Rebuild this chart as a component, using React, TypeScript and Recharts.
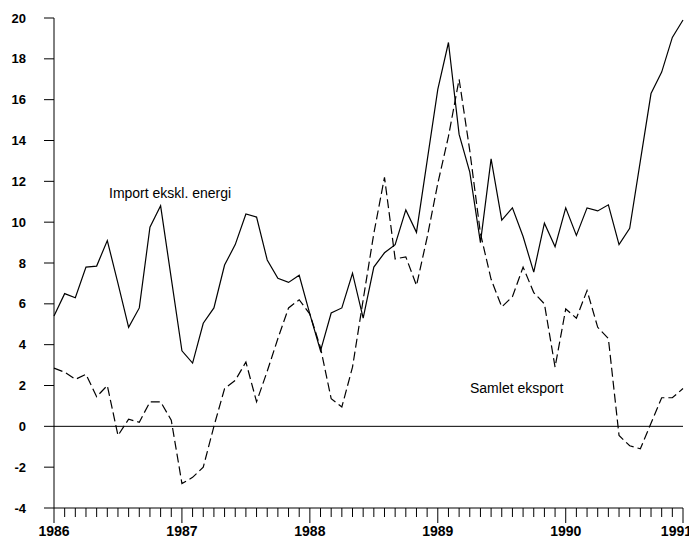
import { LineChart, Line, XAxis, YAxis, ReferenceLine } from 'recharts';

// månedlige tall, jan 1986 - des 1990
const importEksklEnergi = [
  5.4, 6.5, 6.3, 7.8, 7.85, 9.1, 7.0, 4.85, 5.8, 9.75, 10.8, 7.25,
  3.7, 3.1, 5.05, 5.8, 7.9, 8.9, 10.4, 10.25, 8.15, 7.25, 7.05, 7.4,
  5.5, 3.7, 5.55, 5.8, 7.5, 5.3, 7.8, 8.5, 8.9, 10.6, 9.5, 13.0,
  16.5, 18.8, 14.3, 12.45, 9.0, 13.1, 10.1, 10.7, 9.3, 7.55, 9.95, 8.8,
  10.7, 9.35, 10.7, 10.55, 10.85, 8.9, 9.7, 13.0, 16.3, 17.35, 19.05, 19.9,
];

const samletEksport = [
  2.85, 2.65, 2.3, 2.55, 1.45, 2.0, -0.45, 0.35, 0.2, 1.2, 1.2, 0.3,
  -2.8, -2.5, -2.0, 0.0, 1.85, 2.25, 3.15, 1.2, 2.7, 4.3, 5.8, 6.2,
  5.5, 3.85, 1.35, 0.95, 2.9, 6.2, 9.45, 12.2, 8.2, 8.3, 6.9, 9.25,
  11.9, 14.2, 17.0, 13.5, 9.45, 7.2, 5.85, 6.35, 7.8, 6.55, 6.0, 2.9,
  5.75, 5.3, 6.65, 4.85, 4.3, -0.45, -0.95, -1.1, 0.15, 1.4, 1.4, 1.85,
];

const yearLabels = ['1986', '1987', '1988', '1989', '1990', '1991'];
const yTicks = [-4, -2, 0, 2, 4, 6, 8, 10, 12, 14, 16, 18, 20];

const data = importEksklEnergi.map((v, i) => ({
  m: i,
  imp: v,
  eks: samletEksport[i],
}));

const lastIdx = data.length - 1;
const monthTicks = data.map((d) => d.m);
const font = "'Liberation Sans', Arial, sans-serif";

const yearAt = (m: number) => {
  if (m === lastIdx) return yearLabels[yearLabels.length - 1];
  if (m % 12 === 0) return yearLabels[m / 12];
  return null;
};

const MonthTick = ({ x, y, payload }: any) => {
  const label = yearAt(payload.value);
  const isLast = payload.value === lastIdx;
  return (
    <g>
      <line x1={x} x2={x} y1={y} y2={y + (label ? 15 : 9)} stroke="#000" strokeWidth={1} />
      {label && (
        <text
          x={isLast ? x + 9 : x}
          y={y + 28}
          textAnchor={isLast ? 'end' : 'middle'}
          fontSize={14}
          fontWeight="bold"
          fill="#000"
          fontFamily={font}
        >
          {label}
        </text>
      )}
    </g>
  );
};

const labelStyle: React.CSSProperties = {
  position: 'absolute',
  fontFamily: font,
  fontSize: 14,
  lineHeight: '16px',
  color: '#000',
  whiteSpace: 'nowrap',
};

export default function App() {
  return (
    <div style={{ position: 'relative', width: 689, height: 530, background: '#fff' }}>
      <LineChart
        width={689}
        height={530}
        data={data}
        margin={{ top: 10, right: 14, bottom: 0, left: 0 }}
      >
        <XAxis
          dataKey="m"
          type="number"
          domain={[0, lastIdx]}
          ticks={monthTicks}
          interval={0}
          tick={<MonthTick />}
          tickLine={false}
          tickSize={0}
          tickMargin={0}
          height={30}
          axisLine={{ stroke: '#000', strokeWidth: 1 }}
        />
        <YAxis
          domain={[-4, 20]}
          ticks={yTicks}
          interval={0}
          width={46}
          tickSize={10}
          tickMargin={18}
          tick={{ fill: '#000', fontSize: 13, fontWeight: 'bold', fontFamily: font }}
          tickLine={{ stroke: '#000' }}
          axisLine={{ stroke: '#000', strokeWidth: 1 }}
        />
        <ReferenceLine y={0} stroke="#000" strokeWidth={1} />
        <Line
          type="linear"
          dataKey="imp"
          stroke="#000"
          strokeWidth={1.2}
          dot={false}
          isAnimationActive={false}
        />
        <Line
          type="linear"
          dataKey="eks"
          stroke="#000"
          strokeWidth={1.2}
          strokeDasharray="9 4"
          dot={false}
          isAnimationActive={false}
        />
      </LineChart>
      <div style={{ ...labelStyle, left: 101, top: 177 }}>Import ekskl. energi</div>
      <div style={{ ...labelStyle, left: 462, top: 372 }}>Samlet eksport</div>
    </div>
  );
}
